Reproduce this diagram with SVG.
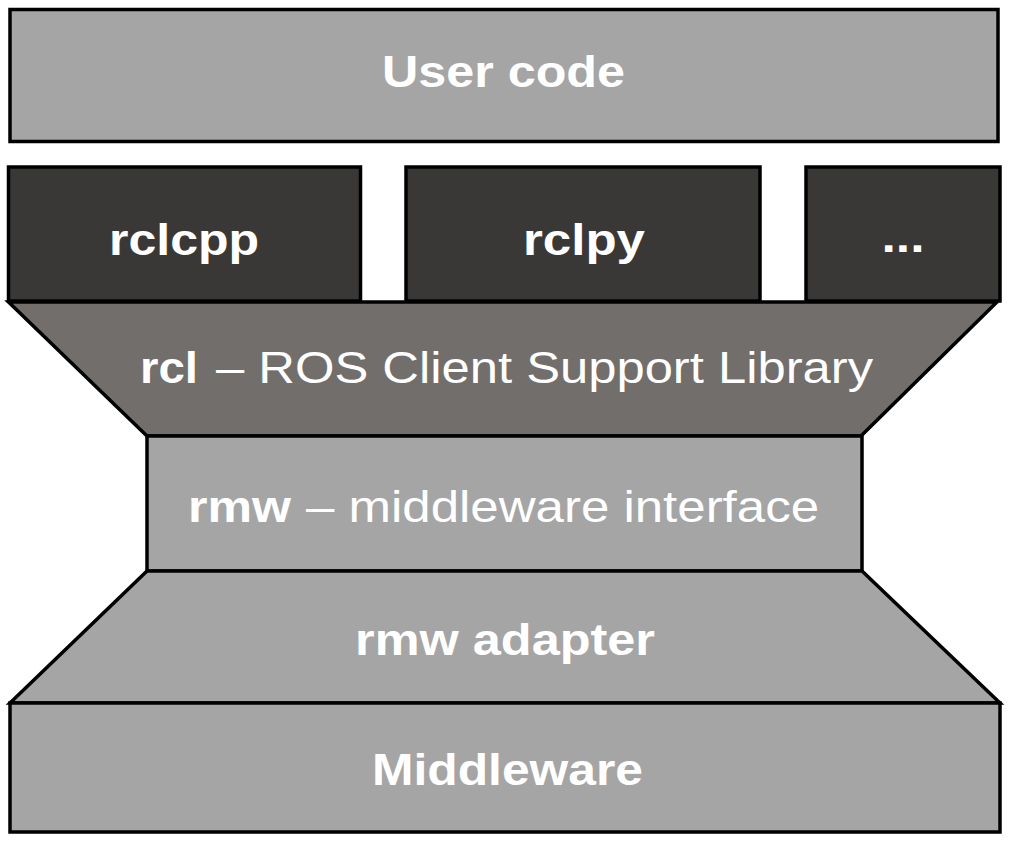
<svg xmlns="http://www.w3.org/2000/svg" width="1010" height="846" viewBox="0 0 1010 846">
<style>
.sh{stroke:#000;stroke-width:3.5;stroke-linejoin:miter}
.light{fill:#a5a5a5}
.dark{fill:#3a3837}
.mid{fill:#726e6c}
.t{font-family:"Liberation Sans",Arial,sans-serif;font-size:44px;fill:#fff}
.b{font-weight:bold}
.r{font-weight:normal}
</style>
<rect width="1010" height="846" fill="#fff"/>
<g id="user-code">
<rect class="sh light" x="10" y="9.5" width="988" height="132"/>
<text class="t b" x="503.5" y="87" text-anchor="middle" textLength="243" lengthAdjust="spacingAndGlyphs">User code</text>
</g>
<g id="rclcpp">
<rect class="sh dark" x="8.5" y="167" width="352" height="134"/>
<text class="t b" x="184" y="255" text-anchor="middle" textLength="150" lengthAdjust="spacingAndGlyphs">rclcpp</text>
</g>
<g id="rclpy">
<rect class="sh dark" x="406" y="167" width="354" height="134"/>
<text class="t b" x="584" y="255" text-anchor="middle" textLength="122" lengthAdjust="spacingAndGlyphs">rclpy</text>
</g>
<g id="more">
<rect class="sh dark" x="806" y="167" width="194" height="134"/>
<text class="t b" x="903" y="252" text-anchor="middle" textLength="43" lengthAdjust="spacingAndGlyphs">...</text>
</g>
<g id="rcl">
<polygon class="sh mid" points="8.5,302 997,302 861,436 147,436"/>
<text class="t"><tspan class="b" x="140" y="383" textLength="58" lengthAdjust="spacingAndGlyphs">rcl</tspan><tspan class="r" x="216" y="383" textLength="657" lengthAdjust="spacingAndGlyphs">– ROS Client Support Library</tspan></text>
</g>
<g id="rmw">
<rect class="sh light" x="147" y="436" width="715" height="135"/>
<text class="t"><tspan class="b" x="188" y="522" textLength="103" lengthAdjust="spacingAndGlyphs">rmw</tspan><tspan class="r" x="306" y="522" textLength="513" lengthAdjust="spacingAndGlyphs">– middleware interface</tspan></text>
</g>
<g id="rmw-adapter">
<polygon class="sh light" points="147,571 862,571 1000,703 10,703"/>
<text class="t b" x="505" y="655" text-anchor="middle" textLength="300" lengthAdjust="spacingAndGlyphs">rmw adapter</text>
</g>
<g id="middleware">
<rect class="sh light" x="10" y="703" width="990" height="129"/>
<text class="t b" x="507.5" y="785" text-anchor="middle" textLength="271" lengthAdjust="spacingAndGlyphs">Middleware</text>
</g>
<g id="connectors"/>
</svg>
